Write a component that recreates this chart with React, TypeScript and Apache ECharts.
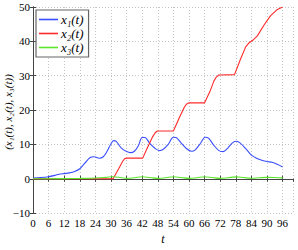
import React, { useEffect, useRef } from "react";
import * as echarts from "echarts";

const x1T = [0, 3, 6, 8, 10, 12, 14, 16, 18, 20, 22, 23.5, 25.5, 27, 28.5, 30, 31, 32, 34, 36, 37.5, 39, 40.5, 42, 43, 45, 47, 48.7, 50, 52, 54, 55, 57, 59, 61, 62.5, 64.5, 66.2, 67.5, 69.5, 71.5, 73, 74.5, 76.5, 78, 79.5, 82, 84, 86, 88, 90, 92, 94, 96];
const x1V = [0.2, 0.35, 0.6, 0.9, 1.3, 1.5, 1.7, 2.1, 2.9, 4.6, 6.2, 6.4, 5.95, 6.4, 8.0, 10.2, 11.1, 10.9, 8.9, 7.9, 7.6, 8.0, 9.6, 12.0, 12.0, 10.2, 8.8, 8.2, 8.5, 10.0, 12.1, 12.0, 10.4, 8.8, 8.0, 8.5, 10.4, 12.1, 11.8, 9.8, 8.2, 7.9, 8.6, 10.3, 10.9, 10.5, 8.6, 6.9, 6.0, 5.4, 5.0, 4.8, 4.2, 3.4];

const x2T = [0, 30.8, 33, 34.5, 35.2, 36, 42.2, 44, 46, 47, 47.8, 54, 56.4, 58.1, 59, 60, 66, 68, 69.6, 70.5, 71.5, 77.5, 79.8, 81.8, 83, 84.5, 86.3, 88.8, 91.4, 94, 96];
const x2V = [0, 0, 3.0, 5.1, 5.8, 6.0, 6.0, 9.0, 12.2, 13.4, 13.9, 13.9, 18.0, 20.7, 21.7, 22.1, 22.1, 25.3, 28.5, 29.6, 30.2, 30.3, 34.8, 38.4, 39.5, 40.3, 41.6, 44.7, 47.5, 49.3, 50.0];

const x3T = [0, 6, 12, 18, 24, 28, 31, 34, 36, 39, 42, 45, 48, 51, 54, 57, 60, 63, 66, 69, 72, 75, 78, 81, 84, 87, 90, 93, 96];
const x3V = [0, 0, 0.05, 0.1, 0.2, 0.4, 0.6, 0.3, 0.1, 0.3, 0.6, 0.35, 0.1, 0.3, 0.6, 0.35, 0.1, 0.3, 0.6, 0.35, 0.1, 0.3, 0.55, 0.35, 0.15, 0.3, 0.4, 0.35, 0.25];

const seriesNames = ["x₁(t)", "x₂(t)", "x₃(t)"];
const seriesColors = ["#3a4eff", "#ff2a2a", "#5ae62a"];
const yAxisName = "(x₁(t), x₂(t), x₃(t))";
const xAxisName = "t";

const zip = (t: number[], v: number[]) => t.map((tt, i) => [tt, v[i]]);

const FONT = "'Liberation Serif', 'Times New Roman', serif";

export default function App() {
  const ref = useRef<HTMLDivElement>(null);
  useEffect(() => {
    if (!ref.current) return;
    const chart = echarts.init(ref.current, undefined, { renderer: "svg" });
    const splitLine = { show: true, lineStyle: { color: "#c4c4c4", type: [1, 2] as any, width: 1 } };
    const tick = { show: true, inside: true, length: 3, lineStyle: { color: "#444" } };
    chart.setOption({
      animation: false,
      backgroundColor: "#ffffff",
      textStyle: { fontFamily: FONT },
      grid: { left: 33, right: 5, top: 7, bottom: 22, containLabel: false },
      graphic: [
        {
          type: "text",
          x: 8,
          y: 112,
          rotation: Math.PI / 2,
          style: {
            text: yAxisName,
            fontFamily: FONT,
            fontStyle: "italic",
            fontSize: 11,
            fill: "#000",
            textAlign: "center",
            textVerticalAlign: "middle",
          },
        },
      ],
      legend: {
        orient: "vertical",
        left: 36,
        top: 10,
        padding: [3, 5, 3, 3],
        itemGap: 1,
        itemWidth: 19,
        itemHeight: 1.6,
        icon: "rect",
        backgroundColor: "#ffffff",
        borderColor: "#666666",
        borderWidth: 1.2,
        borderRadius: 0,
        textStyle: { fontFamily: FONT, fontStyle: "italic", fontSize: 13, color: "#000", padding: [0, 0, 0, -2], lineHeight: 12 },
        data: seriesNames,
      },
      xAxis: [
        {
          type: "value",
          min: 0,
          max: 100,
          interval: 6,
          name: xAxisName,
          nameLocation: "middle",
          nameGap: 18,
          nameTextStyle: { fontFamily: FONT, fontStyle: "italic", fontSize: 12, color: "#000" },
          axisLine: { show: true, lineStyle: { color: "#000", width: 1 } },
          axisTick: tick,
          axisLabel: { fontFamily: FONT, fontSize: 11, color: "#000", margin: 4, showMaxLabel: false },
          splitLine,
        },
        {
          type: "value",
          position: "top",
          min: 0,
          max: 100,
          interval: 6,
          axisLine: { show: true, lineStyle: { color: "#444", width: 1 } },
          axisTick: tick,
          axisLabel: { show: false },
          splitLine: { show: false },
        },
      ],
      yAxis: [
        {
          type: "value",
          min: -10,
          max: 50,
          interval: 10,
          axisLine: { show: true, lineStyle: { color: "#000", width: 1 } },
          axisTick: tick,
          axisLabel: { fontFamily: FONT, fontSize: 11, color: "#000", margin: 3, formatter: (v: number) => (v < 0 ? "−" + Math.abs(v) : String(v)) },
          splitLine,
        },
        {
          type: "value",
          position: "right",
          min: -10,
          max: 50,
          interval: 10,
          axisLine: { show: true, lineStyle: { color: "#444", width: 1 } },
          axisTick: tick,
          axisLabel: { show: false },
          splitLine: { show: false },
        },
      ],
      series: [
        { name: seriesNames[0], type: "line", data: zip(x1T, x1V), smooth: 0.35, symbol: "none", lineStyle: { color: seriesColors[0], width: 1.1 }, itemStyle: { color: seriesColors[0] } },
        { name: seriesNames[1], type: "line", data: zip(x2T, x2V), smooth: false, symbol: "none", lineStyle: { color: seriesColors[1], width: 1.1 }, itemStyle: { color: seriesColors[1] } },
        { name: seriesNames[2], type: "line", data: zip(x3T, x3V), smooth: 0.35, symbol: "none", lineStyle: { color: seriesColors[2], width: 1.1 }, itemStyle: { color: seriesColors[2] } },
      ],
    });
    return () => chart.dispose();
  }, []);
  return <div ref={ref} style={{ position: "absolute", left: 0, top: 0, width: 298, height: 250 }} />;
}
